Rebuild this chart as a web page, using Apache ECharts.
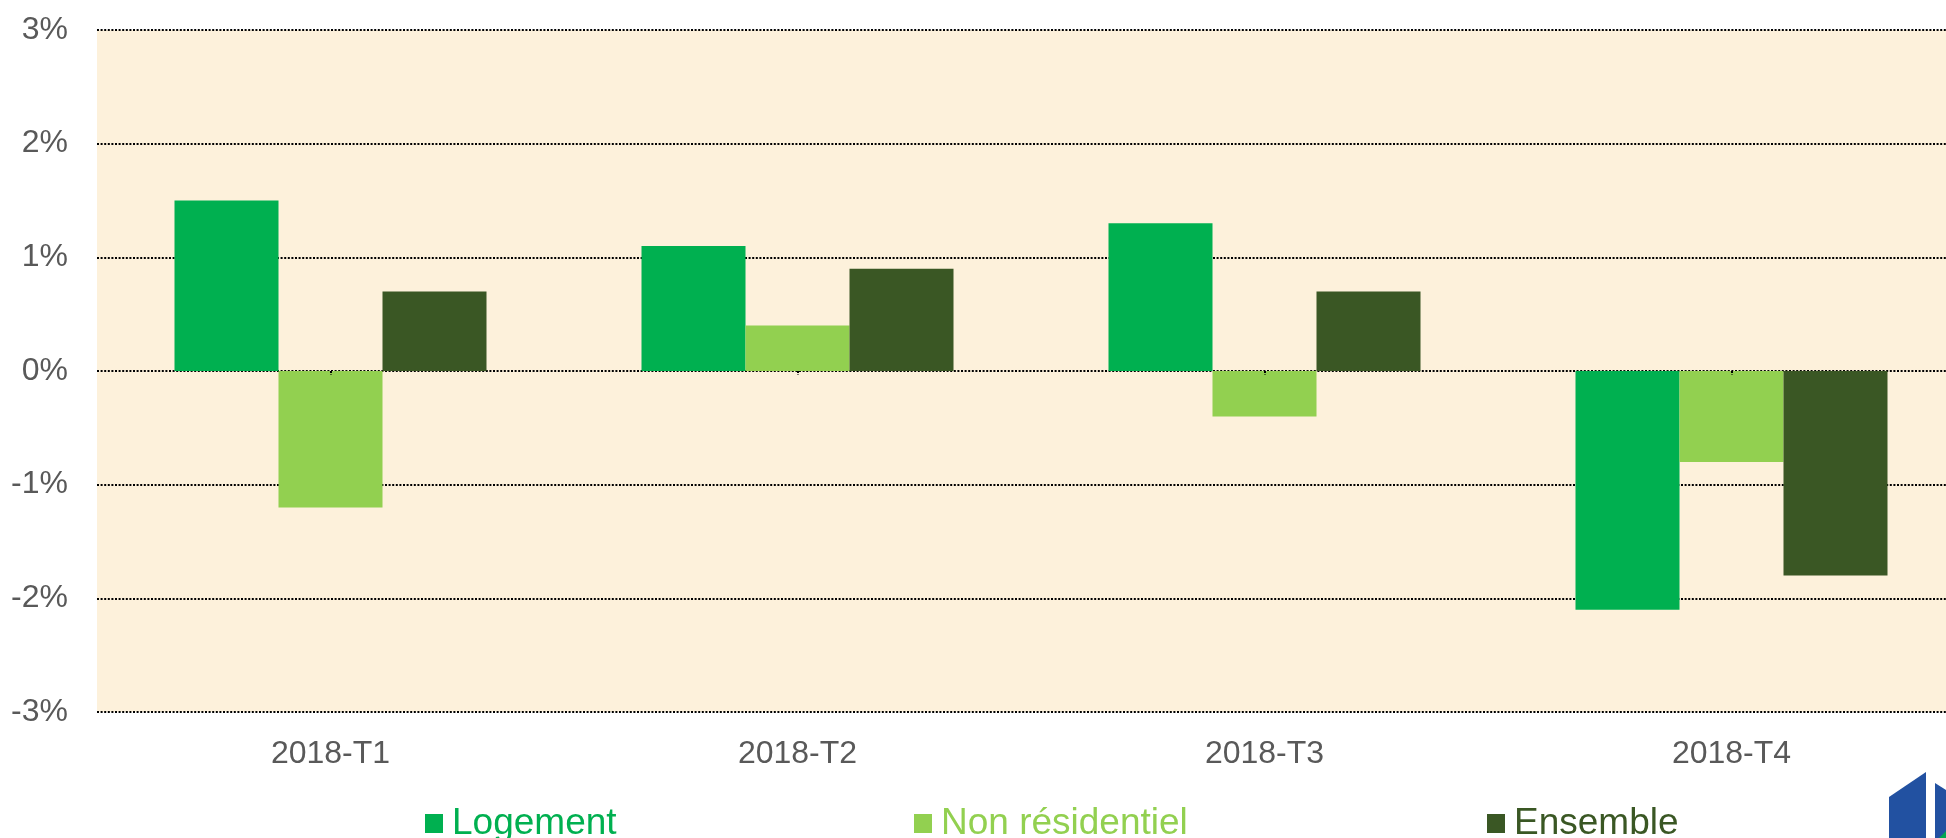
<!DOCTYPE html>
<html>
<head>
<meta charset="utf-8">
<script src="https://cdn.jsdelivr.net/npm/echarts@6/dist/echarts.min.js"></script>
<style>
  html, body { margin: 0; padding: 0; background: #ffffff; overflow: hidden; }
  #chart { width: 1946px; height: 838px; }
</style>
</head>
<body>
<div id="chart"></div>
<script>
// données
const categories = ['2018-T1', '2018-T2', '2018-T3', '2018-T4'];
const logement = [1.5, 1.1, 1.3, -2.1];
const nonResidentiel = [-1.2, 0.4, -0.4, -0.8];
const ensemble = [0.7, 0.9, 0.7, -1.8];
const seriesNames = ['Logement', 'Non résidentiel', 'Ensemble'];
const colors = ['#00B050', '#92D050', '#3A5724'];

const font = 'Liberation Sans, Arial, sans-serif';
const dotted = { color: '#000000', width: 2, type: [2, 1.6] };
const chart = echarts.init(document.getElementById('chart'));

// une légende par élément, pour placer chacun comme dans l'original
const legendLeft = [420, 909, 1482];
const legends = seriesNames.map((name, i) => ({
  data: [name],
  left: legendLeft[i],
  top: 800,
  icon: 'rect',
  itemWidth: 18,
  itemHeight: 19,
  textStyle: { color: colors[i], fontSize: 37, fontFamily: font, padding: [0, 0, 0, 4] }
}));

const option = {
  backgroundColor: '#ffffff',
  animation: false,
  color: colors,
  legend: legends,
  grid: {
    left: 97,
    width: 1868,
    top: 30,
    bottom: 126,
    outerBoundsMode: 'none',
    containLabel: false,
    show: true,
    backgroundColor: '#FDF1DB',
    borderWidth: 0
  },
  xAxis: [
    {
      type: 'category',
      data: categories,
      axisLine: { show: false, onZero: false },
      axisTick: { show: false },
      axisLabel: { color: '#595959', fontSize: 32, fontFamily: font, margin: 26 }
    },
    {
      // petites graduations sur la ligne du zéro
      type: 'category',
      data: categories,
      position: 'bottom',
      z: 3,
      axisLine: { show: false, onZero: true },
      axisTick: { show: true, alignWithLabel: true, length: 4, lineStyle: dotted },
      axisLabel: { show: false }
    }
  ],
  yAxis: {
    type: 'value',
    min: -3,
    max: 3,
    interval: 1,
    axisLine: { show: false },
    axisTick: { show: false },
    axisLabel: { color: '#595959', fontSize: 32, fontFamily: font, margin: 29, formatter: '{value}%' },
    splitLine: { lineStyle: dotted }
  },
  series: [
    { name: seriesNames[0], type: 'bar', data: logement, barWidth: 104, barGap: '0%' },
    { name: seriesNames[1], type: 'bar', data: nonResidentiel, barWidth: 104, barGap: '0%' },
    { name: seriesNames[2], type: 'bar', data: ensemble, barWidth: 104, barGap: '0%' }
  ],
  graphic: [
    { type: 'polygon', shape: { points: [[1889, 797], [1926, 772], [1926, 838], [1889, 838]] }, style: { fill: '#2251A1' } },
    { type: 'polygon', shape: { points: [[1935, 783], [1946, 790], [1946, 838], [1935, 838]] }, style: { fill: '#2251A1' } },
    { type: 'polygon', shape: { points: [[1939, 838], [1946, 831], [1946, 838]] }, style: { fill: '#00A651' } }
  ]
};

chart.setOption(option);
</script>
</body>
</html>
